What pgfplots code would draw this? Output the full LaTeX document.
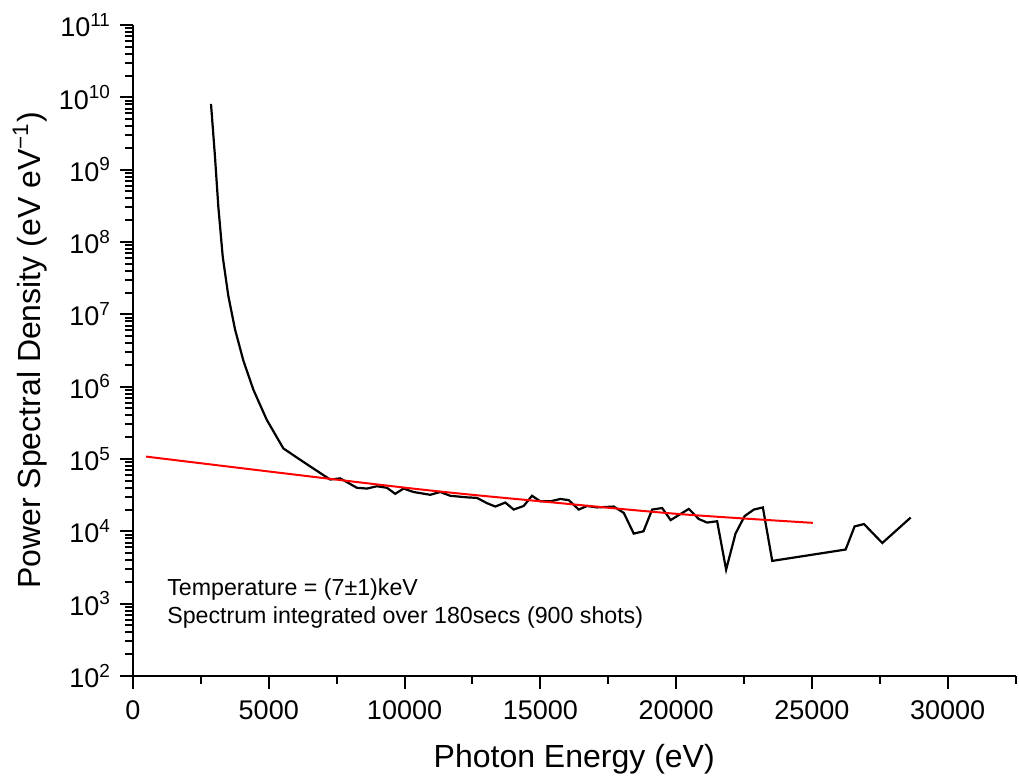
\documentclass[border=0pt]{standalone}
\usepackage{pgfplots}
\pgfplotsset{compat=1.18}
\usepackage{fontspec}
\setmainfont{Liberation Sans}
\begin{document}
\begin{tikzpicture}[x=1pt,y=1pt]
\useasboundingbox (-66.5pt,-50pt) rectangle (443pt,338pt);
\begin{axis}[
  at={(0,0)}, anchor=south west,
  scale only axis, width=441.25pt, height=325.5pt,
  xmin=0, xmax=32500,
  ymode=log, ymin=1e2, ymax=1e11,
  axis lines=left, axis line style={line width=1.1pt, -},
  tick style={line width=1pt, black},
  tick align=outside,
  major tick length=6.5pt, minor tick length=4pt,
  scaled x ticks=false,
  xtick={0,5000,10000,15000,20000,25000,30000},
  xticklabels={0,5000,10000,15000,20000,25000,30000},
  minor xtick={2500,7500,12500,17500,22500,27500,32500},
  ytick={1e2,1e3,1e4,1e5,1e6,1e7,1e8,1e9,1e10,1e11},
  yticklabels={10\textsuperscript{2},10\textsuperscript{3},10\textsuperscript{4},10\textsuperscript{5},10\textsuperscript{6},10\textsuperscript{7},10\textsuperscript{8},10\textsuperscript{9},10\textsuperscript{10},10\textsuperscript{11}},
  ticklabel style={font=\fontsize{13.5}{16}\selectfont},
  xticklabel style={yshift=-2.5pt},
  yticklabel style={xshift=-1pt},
  xlabel={Photon Energy (eV)},
  ylabel={Power Spectral Density (eV eV\textsuperscript{−1})},
  label style={font=\fontsize{16}{19}\selectfont},
  xlabel style={at={(axis description cs:0.5,0)}, anchor=base, yshift=-46pt},
  ylabel style={at={(axis description cs:-0.1167,0.5)}, anchor=center},
  clip=false,
]
\addplot[black, line width=1.1pt] coordinates {
(2873,8.1e9) (3020,1.5e9) (3142,3.1e8) (3304,6.3e7) (3510,1.8e7) (3757,6.2e6)
(4063,2.3e6) (4432,9.1e5) (4923,3.5e5) (5537,1.4e5) (6150,9.8e4) (6524,7.9e4)
(7261,5.2e4) (7630,5.4e4)
(8245,4.0e4) (8614,3.9e4) (8982,4.2e4) (9351,4.0e4) (9657,3.3e4) (9963,3.9e4)
(10332,3.5e4) (10947,3.2e4) (11316,3.5e4) (11684,3.1e4) (12299,2.95e4) (12668,2.9e4)
(13037,2.45e4) (13343,2.2e4) (13712,2.5e4) (14019,2.0e4) (14387,2.24e4) (14694,3.1e4)
(15002,2.6e4) (15371,2.6e4) (15739,2.8e4) (16046,2.7e4) (16415,2.0e4) (16722,2.24e4)
(17091,2.14e4) (17705,2.2e4) (18074,1.8e4) (18441,9.3e3) (18800,1.0e4) (19118,2.0e4)
(19487,2.1e4) (19800,1.43e4) (20468,2.04e4) (20837,1.48e4) (21143,1.32e4) (21512,1.38e4)
(21843,2.95e3) (22189,9.3e3) (22521,1.62e4) (22864,2.0e4) (23196,2.14e4) (23541,3.9e3)
(26244,5.6e3) (26575,1.17e4) (26920,1.26e4) (27595,6.9e3) (28639,1.55e4)
};
\addplot[red, line width=1pt, smooth] coordinates {
(479,1.08e5) (10203,3.94e4) (15500,2.5e4) (20147,1.73e4) (25035,1.31e4)
};
\node[anchor=base west, font=\fontsize{11.6}{14}\selectfont, inner sep=0pt] at (rel axis cs:0.0384,0.1233) {Temperature = (7±1)keV};
\node[anchor=base west, font=\fontsize{11.6}{14}\selectfont, inner sep=0pt] at (rel axis cs:0.0384,0.0799) {Spectrum integrated over 180secs (900 shots)};
\end{axis}
\end{tikzpicture}
\end{document}
